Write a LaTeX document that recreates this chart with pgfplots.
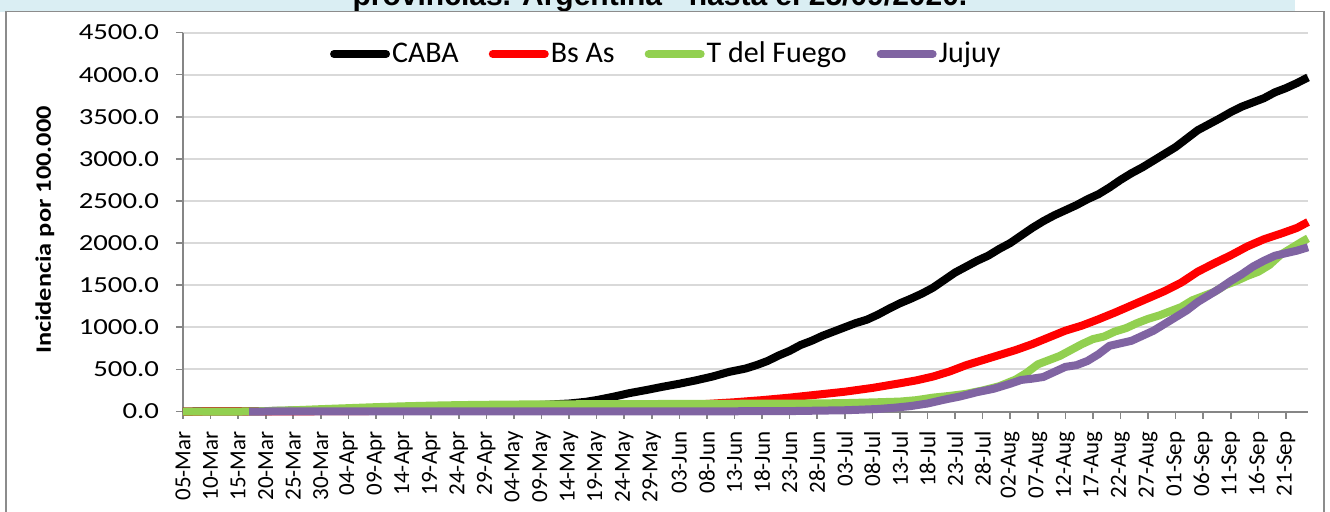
\documentclass[border=0pt]{standalone}
\usepackage{fontspec}
\setmainfont{Carlito}
\newfontfamily\tickfont{Carlito}[FakeStretch=1.0]
\newfontfamily\ytickfont{Carlito}[FakeStretch=1.25]
\newfontfamily\labfont{Carlito}[FakeStretch=1.2]
\newfontfamily\titlefont{Liberation Sans}
\usepackage{pgfplots}
\usepackage{pgfplotstable}
\pgfplotsset{compat=1.18}
\definecolor{cgreen}{HTML}{92D050}
\definecolor{cpurple}{HTML}{8064A2}
\definecolor{cgrid}{HTML}{D9D9D9}
\definecolor{caxis}{HTML}{868686}
\definecolor{cband}{HTML}{DAEEF3}
\definecolor{cframe}{HTML}{8C8C8C}

% CABA
\pgfplotstableread{
d v
0 0
5 0.5
10 2
15 5
20 10
25 15
30 22
35 30
40 38
45 45
50 52
55 60
60 68
65 78
70 95
73 115
75 136
78 175
81 219
84 255
87 294
90 330
93 370
96 415
99 470
102 510
104 551
106 600
108 665
110 720
112 790
114 840
116 900
118 950
120 1000
122 1050
124 1090
126 1150
128 1220
130 1285
132 1340
134 1400
136 1470
138 1560
140 1650
142 1720
144 1790
146 1850
148 1930
150 2000
152 2090
154 2180
156 2260
158 2330
160 2390
162 2450
164 2520
166 2580
168 2660
170 2750
172 2830
174 2900
176 2980
178 3060
180 3140
182 3240
184 3340
186 3410
188 3480
190 3555
192 3620
194 3670
196 3720
198 3790
200 3840
202 3900
204 3967
}\caba

% Bs As
\pgfplotstableread{
d v
0 0
10 0.5
20 2
30 5
40 8
50 12
60 18
70 28
75 35
80 45
85 58
90 72
95 90
100 110
105 135
110 165
115 200
120 235
125 280
130 335
133 370
136 415
139 475
142 550
145 610
148 670
151 730
154 800
157 880
160 960
163 1020
166 1095
169 1175
172 1260
175 1345
178 1430
181 1530
184 1660
187 1760
190 1855
193 1960
196 2045
199 2110
202 2180
204 2250
}\bsas

% T del Fuego
\pgfplotstableread{
d v
0 0
5 0
10 0
12 0.5
15 5
20 15
25 28
30 40
35 52
40 62
45 70
50 76
55 80
60 83
70 86
80 88
90 90
100 92
110 94
115 96
120 100
125 108
130 118
133 135
136 165
139 185
142 210
145 250
148 300
151 380
153 460
155 560
157 610
159 660
161 730
163 800
165 860
167 890
169 950
171 990
173 1050
175 1100
177 1140
179 1190
181 1240
183 1320
185 1370
187 1420
189 1500
191 1550
193 1610
195 1660
197 1740
199 1860
201 1940
203 2020
204 2056
}\tdf

% Jujuy
\pgfplotstableread{
d v
12 0
20 0.5
40 1
60 1.5
80 2
100 3
110 5
115 10
120 15
123 22
126 30
129 45
132 65
135 95
138 140
141 180
144 230
147 270
150 330
152 375
154 390
156 410
158 470
160 530
162 550
164 600
166 680
168 780
170 810
172 840
174 900
176 960
178 1040
180 1120
182 1200
184 1300
186 1380
188 1460
190 1550
192 1630
194 1720
196 1790
198 1850
200 1880
202 1910
204 1950
}\jujuy

\begin{document}
\begin{tikzpicture}
\useasboundingbox (0pt,0pt) rectangle (665pt,-255.5pt);
\fill[cband] (0pt,0pt) rectangle (647.5pt,-5.75pt);
\begin{scope}
\clip (0pt,0pt) rectangle (665pt,-255.5pt);
\node[anchor=base, inner sep=0pt, font=\titlefont\bfseries\fontsize{15}{18}\selectfont] at (330pt,-2.75pt) {provincias. Argentina - hasta el 25/09/2020.};
\draw[cframe, line width=0.7pt] (3pt,-5.75pt) rectangle (662pt,-262pt);
\end{scope}
\begin{axis}[
  scale only axis, width=562.5pt, height=189.5pt,
  at={(91.5pt,-205.75pt)}, anchor=south west,
  xmin=0, xmax=204, ymin=0, ymax=4500,
  clip=false,
  axis x line*=bottom, axis y line*=left,
  axis line style={caxis, line width=1pt, -},
  ytick={0,500,...,4500},
  xtick={0,5,...,200},
  xticklabels={05-Mar,10-Mar,15-Mar,20-Mar,25-Mar,30-Mar,04-Apr,09-Apr,14-Apr,19-Apr,24-Apr,29-Apr,04-May,09-May,14-May,19-May,24-May,29-May,03-Jun,08-Jun,13-Jun,18-Jun,23-Jun,28-Jun,03-Jul,08-Jul,13-Jul,18-Jul,23-Jul,28-Jul,02-Aug,07-Aug,12-Aug,17-Aug,22-Aug,27-Aug,01-Sep,06-Sep,11-Sep,16-Sep,21-Sep},
  tick align=outside, major tick length=3.5pt,
  tick style={caxis, line width=0.8pt},
  ymajorgrids, major grid style={cgrid, line width=1pt},
  yticklabel={\pgfmathprintnumber[fixed,fixed zerofill,precision=1,1000 sep={},assume math mode=true]{\tick}},
  yticklabel style={font=\ytickfont\fontsize{11.5}{13}\selectfont},
  yticklabel shift=5pt,
  xticklabel style={rotate=90, anchor=east, font=\tickfont\fontsize{11.5}{13}\selectfont},
  xticklabel shift=3pt,
  ylabel={Incidencia por 100.000},
  ylabel style={font=\labfont\bfseries\fontsize{11}{13}\selectfont, at={(axis description cs:-0.1227,0.479)}, anchor=center},
  legend columns=4,
  legend style={draw=none, fill=none, inner sep=0pt, outer sep=0pt,
    at={(axis description cs:0.1307,0.9433)}, anchor=west,
    font=\fontsize{15}{18}\selectfont, nodes={inner sep=1pt},
    /tikz/every even column/.append style={column sep=14pt}},
  legend image code/.code={\draw[#1, line width=4pt, line cap=round] (2pt,0pt) -- (28pt,0pt);},
]
\addplot[black, line width=4pt, line join=round, no markers] table[x=d,y=v] {\caba};
\addlegendentry{CABA}
\addplot[red, line width=4pt, line join=round, no markers] table[x=d,y=v] {\bsas};
\addlegendentry{Bs As}
\addplot[cgreen, line width=4pt, line join=round, no markers] table[x=d,y=v] {\tdf};
\addlegendentry{T del Fuego}
\addplot[cpurple, line width=4pt, line join=round, no markers] table[x=d,y=v] {\jujuy};
\addlegendentry{Jujuy}
\end{axis}
\end{tikzpicture}
\end{document}
